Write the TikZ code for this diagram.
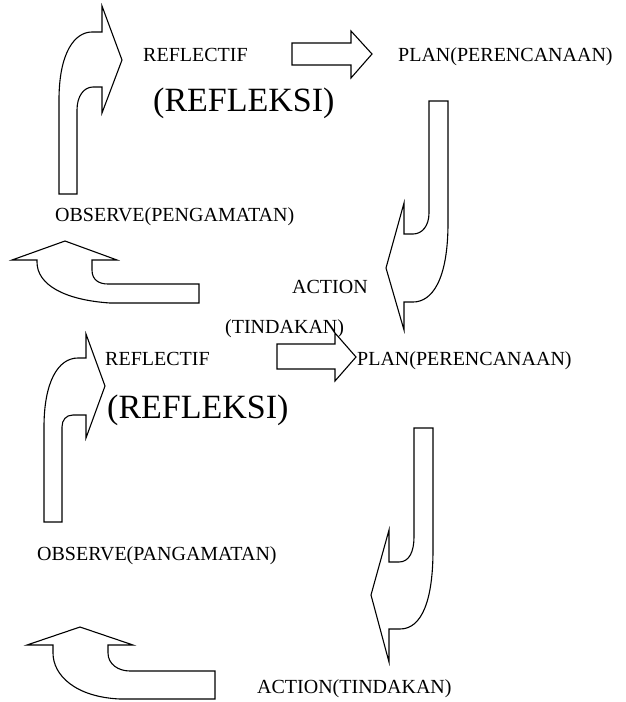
\documentclass[tikz,border=0pt]{standalone}
\usepackage{fontspec}
\setmainfont{Liberation Serif}
\usepackage{tikz}

\tikzset{
  blockarrow/.style={draw=black, line width=1.1pt, fill=white, line join=miter},
  lbl/.style={anchor=base west, inner sep=0pt, font=\fontsize{20}{24}\selectfont},
  biglbl/.style={anchor=base west, inner sep=0pt, font=\fontsize{34}{40}\selectfont}
}

\begin{document}
\begin{tikzpicture}[x=1pt, y=-1pt]
\useasboundingbox (0,0) rectangle (625,702);

% Cycle 1
\draw[blockarrow] (59,194) -- (59,100) .. controls (59,52) and (75,32) .. (92,32)
  -- (102,32) -- (102,6) -- (122,60) -- (102,113) -- (102,87) -- (93,87)
  .. controls (84,87) and (77,96) .. (77,110) -- (77,194) -- cycle;
\node[lbl] (refl1) at (143,61) {REFLECTIF};
\node[biglbl] (refk1) at (153,111) {(REFLEKSI)};
\draw[blockarrow] (292,43) -- (351,43) -- (351,31) -- (372,54) -- (351,78)
  -- (351,65) -- (292,65) -- cycle;
\node[lbl] (plan1) at (398,61) {PLAN(PERENCANAAN)};
\draw[blockarrow] (429,101) -- (448,101) -- (448,223)
  .. controls (448,280) and (432,302) .. (413,302) -- (404,302) -- (404,330)
  -- (386,268) -- (404,203) -- (404,234) -- (413,234)
  .. controls (422,234) and (429,226) .. (429,213) -- cycle;
\node[lbl] (obs1) at (55,221) {OBSERVE(PENGAMATAN)};
\node[lbl] (act1) at (292,293) {ACTION};
\node[lbl] (tind1) at (225,333) {(TINDAKAN)};
\draw[blockarrow] (199,284) -- (199,303) -- (110,303)
  .. controls (65,300) and (37,285) .. (37,262) -- (37,260) -- (12,260)
  -- (65,241) -- (117,260) -- (92,260) -- (92,270)
  .. controls (92,280) and (99,284) .. (108,284) -- cycle;

% Cycle 2
\draw[blockarrow] (44,522) -- (44,427) .. controls (44,382) and (58,358) .. (78,358)
  -- (86,358) -- (86,334) -- (105,386) -- (86,438) -- (86,415) -- (73,415)
  .. controls (66,415) and (62,420) .. (62,427) -- (62,522) -- cycle;
\node[lbl] (refl2) at (105,365) {REFLECTIF};
\node[biglbl] (refk2) at (107,418) {(REFLEKSI)};
\draw[blockarrow] (277,344) -- (335,344) -- (335,333) -- (356,357) -- (335,381)
  -- (335,369) -- (277,369) -- cycle;
\node[lbl] (plan2) at (357,365) {PLAN(PERENCANAAN)};
\draw[blockarrow] (414,428) -- (433,428) -- (433,550)
  .. controls (433,600) and (422,629) .. (400,629) -- (389,629) -- (389,662)
  -- (371,595) -- (389,530) -- (389,562) -- (399,562)
  .. controls (409,562) and (414,552) .. (414,537) -- cycle;
\node[lbl] (obs2) at (37,560) {OBSERVE(PANGAMATAN)};
\draw[blockarrow] (215,671) -- (215,699) -- (120,699)
  .. controls (75,697) and (53,675) .. (53,653) -- (53,645) -- (27,645)
  -- (80,627) -- (133,645) -- (108,645) -- (108,653)
  .. controls (108,664) and (118,671) .. (130,671) -- cycle;
\node[lbl] (act2) at (257,693) {ACTION(TINDAKAN)};

\end{tikzpicture}
\end{document}
